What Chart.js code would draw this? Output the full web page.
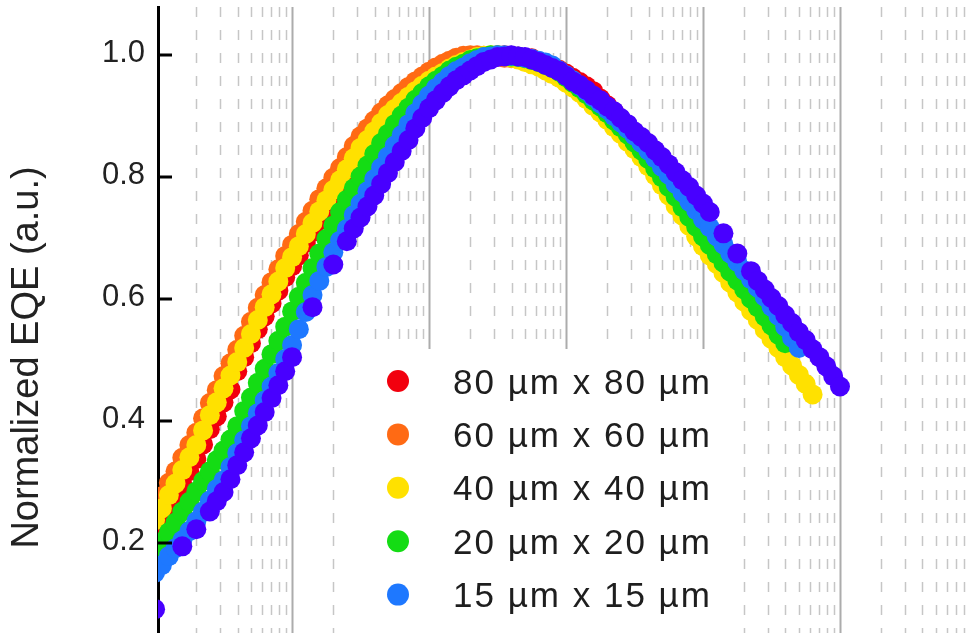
<!DOCTYPE html>
<html>
<head>
<meta charset="utf-8">
<script src="https://cdn.jsdelivr.net/npm/chart.js@4.4.1/dist/chart.umd.min.js"></script>
<style>
  html, body { margin: 0; padding: 0; background: #fff; }
  #wrap { width: 968px; height: 633px; overflow: hidden; position: relative; }
</style>
</head>
<body>
<div id="wrap"><canvas id="eqeChart" width="968" height="708"></canvas></div>
<script>
// Current density grid (A/cm2), same for every device
const currentDensity = [
  0.01, 0.0112, 0.0126, 0.0141, 0.0158, 0.0178, 0.02, 0.0224, 0.0251, 0.0282,
  0.0316, 0.0355, 0.0398, 0.0447, 0.0501, 0.0562, 0.0631, 0.0708, 0.0794, 0.0891,
  0.1, 0.112, 0.126, 0.141, 0.158, 0.178, 0.2, 0.224, 0.251, 0.282,
  0.316, 0.355, 0.398, 0.447, 0.501, 0.562, 0.631, 0.708, 0.794, 0.891,
  1, 1.12, 1.26, 1.41, 1.58, 1.78, 2, 2.24, 2.51, 2.82,
  3.16, 3.55, 3.98, 4.47, 5.01, 5.62, 6.31, 7.08, 7.94, 8.91,
  10, 11.2, 12.6, 14.1, 15.8, 17.8, 20, 22.4, 25.1, 28.2,
  31.6, 35.5, 39.8, 44.7, 50.1, 56.2, 63.1, 70.8, 79.4, 89.1,
  100, 112, 126, 141, 158, 178, 200, 224, 251, 282,
  316, 355, 398, 447, 501, 562, 631, 708, 794, 891,
  1000
];

// Device sizes and their colours
const deviceSizes = ['80 µm x 80 µm', '60 µm x 60 µm', '40 µm x 40 µm', '20 µm x 20 µm', '15 µm x 15 µm', '10 µm x 10 µm'];
const sizeColors = ['#f2000e', '#ff6a14', '#ffe100', '#14dc14', '#1e78ff', '#4800ff'];

// Normalized EQE per device (null = no point)
const eqe80 = [
  0.215, 0.234, 0.256, 0.275, 0.297, 0.318, 0.338, 0.362, 0.387, 0.408,
  0.431, 0.452, 0.482, 0.505, 0.528, 0.551, 0.572, 0.593, 0.614, 0.636,
  0.654, 0.672, 0.692, 0.710, 0.729, 0.747, 0.764, 0.780, 0.798, 0.816,
  0.833, 0.846, 0.860, 0.874, 0.887, 0.897, 0.907, 0.917, 0.926, 0.935,
  0.944, 0.952, 0.960, 0.968, 0.975, 0.982, 0.988, 0.993, 0.997, 0.999,
  1.000, 1.000, 0.999, 0.998, 0.996, 0.995, 0.990, 0.985, 0.980, 0.976,
  0.970, 0.963, 0.956, 0.949, 0.941, 0.929, 0.918, 0.907, 0.895, 0.883,
  0.870, 0.857, 0.844, 0.829, 0.814, 0.798, 0.782, 0.767, 0.751, 0.735,
  0.720, 0.704, 0.689, 0.674, 0.658, 0.643, 0.628, 0.613, 0.598, 0.584,
  0.570, 0.555, 0.540
];
const eqe60 = [
  0.258, 0.277, 0.299, 0.318, 0.340, 0.361, 0.381, 0.405, 0.430, 0.451,
  0.474, 0.495, 0.517, 0.540, 0.563, 0.586, 0.607, 0.628, 0.649, 0.671,
  0.689, 0.707, 0.727, 0.745, 0.764, 0.782, 0.799, 0.815, 0.833, 0.851,
  0.867, 0.880, 0.893, 0.906, 0.918, 0.928, 0.938, 0.948, 0.957, 0.965,
  0.973, 0.980, 0.986, 0.991, 0.996, 0.999, 1.000, 1.000, 0.999, 0.998,
  0.997, 0.996, 0.995, 0.994, 0.992, 0.990, 0.989, 0.983, 0.977, 0.971,
  0.963, 0.955, 0.946, 0.936, 0.925, 0.914, 0.902, 0.890, 0.879, 0.871,
  0.859, 0.846, 0.831, 0.816, 0.800, 0.783, 0.766, 0.750, 0.733, 0.716,
  0.700, 0.685, 0.671, 0.656, 0.640, 0.624, 0.609, 0.594, 0.579, 0.563,
  0.548, 0.533
];
const eqe40 = [
  0.238, 0.257, 0.279, 0.298, 0.320, 0.341, 0.361, 0.385, 0.410, 0.431,
  0.454, 0.475, 0.497, 0.520, 0.543, 0.566, 0.587, 0.608, 0.629, 0.651,
  0.669, 0.687, 0.707, 0.725, 0.744, 0.762, 0.779, 0.795, 0.813, 0.831,
  0.848, 0.861, 0.875, 0.889, 0.902, 0.912, 0.922, 0.932, 0.941, 0.950,
  0.958, 0.965, 0.971, 0.978, 0.984, 0.989, 0.993, 0.997, 0.999, 1.000,
  0.999, 0.998, 0.996, 0.993, 0.989, 0.985, 0.981, 0.975, 0.969, 0.963,
  0.955, 0.947, 0.938, 0.928, 0.917, 0.906, 0.894, 0.882, 0.871, 0.858,
  0.846, 0.833, 0.818, 0.803, 0.787, 0.770, 0.753, 0.737, 0.720, 0.703,
  0.687, 0.672, 0.658, 0.643, 0.627, 0.611, 0.596, 0.581, 0.566, 0.550,
  0.535, 0.520, 0.505, 0.491, 0.476, 0.461, 0.444
];
const eqe20 = [
  0.185, 0.202, 0.218, 0.234, 0.252, 0.268, 0.285, 0.302, 0.318, 0.336,
  0.352, 0.370, 0.392, 0.417, 0.439, 0.463, 0.486, 0.510, 0.532, 0.555,
  0.580, 0.604, 0.627, 0.651, 0.675, 0.699, 0.721, 0.743, 0.763, 0.782,
  0.801, 0.819, 0.838, 0.856, 0.871, 0.887, 0.901, 0.914, 0.927, 0.938,
  0.949, 0.958, 0.966, 0.975, 0.981, 0.986, 0.992, 0.995, 0.997, 1.000,
  1.000, 0.999, 0.998, 0.997, 0.995, 0.992, 0.989, 0.984, 0.979, 0.973,
  0.964, 0.955, 0.946, 0.936, 0.926, 0.916, 0.905, 0.893, 0.882, 0.870,
  0.857, 0.844, 0.830, 0.815, 0.800, 0.784, 0.768, 0.751, 0.735, 0.719,
  0.703, 0.689, 0.674, 0.660, 0.645, 0.631, 0.616, 0.601, 0.587, 0.572,
  0.557, 0.542, 0.528
];
const eqe15 = [
  0.152, 0.164, 0.179, 0.192, 0.205, 0.220, 0.236, 0.252, 0.270, 0.289,
  0.303, 0.325, 0.348, 0.369, 0.392, 0.413, 0.434, 0.457, 0.479, 0.502,
  0.525, 0.551, 0.579, 0.607, 0.630, 0.653, 0.677, 0.696, 0.715, 0.738,
  0.757, 0.777, 0.797, 0.816, 0.834, 0.852, 0.869, 0.887, 0.905, 0.920,
  0.934, 0.946, 0.956, 0.966, 0.974, 0.980, 0.987, 0.992, 0.997, 0.998,
  1.000, 1.000, 0.999, 0.998, 0.996, 0.994, 0.991, 0.988, 0.983, 0.975,
  0.967, 0.959, 0.950, 0.941, 0.931, 0.921, 0.911, 0.900, 0.890, 0.879,
  0.868, 0.856, 0.844, 0.831, 0.817, 0.804, 0.789, 0.775, 0.760, 0.746,
  0.731, 0.718, 0.703, 0.690, 0.675, 0.661, 0.647, 0.633, 0.619, 0.604,
  0.588, 0.573, 0.555, 0.537, 0.520
];
const eqe10 = [
  0.092, null, null, null, 0.195, null, 0.223, null, 0.252, 0.269,
  0.284, 0.305, 0.328, 0.349, 0.372, 0.393, 0.415, 0.438, 0.459, 0.482,
  0.505, null, null, 0.587, null, null, 0.657, null, 0.695, 0.716,
  0.734, 0.752, 0.770, 0.789, 0.807, 0.825, 0.843, 0.861, 0.880, 0.897,
  0.913, 0.926, 0.938, 0.949, 0.959, 0.967, 0.975, 0.982, 0.989, 0.993,
  0.997, 0.998, 1.000, 0.998, 0.997, 0.993, 0.989, 0.984, 0.979, 0.974,
  0.966, 0.957, 0.951, 0.943, 0.934, 0.926, 0.916, 0.908, 0.897, 0.887,
  0.875, 0.866, 0.856, 0.844, 0.833, 0.821, 0.808, 0.795, 0.784, 0.770,
  0.757, 0.743, null, 0.708, null, 0.675, null, 0.646, 0.630, 0.616,
  0.602, 0.589, 0.574, 0.561, 0.546, 0.533, 0.518, 0.505, 0.490, 0.474,
  0.457
];

const yTickValues = [0.2, 0.4, 0.6, 0.8, 1.0];

const FONT = "'Liberation Sans', Arial, sans-serif";
const series = [eqe80, eqe60, eqe40, eqe20, eqe15, eqe10];

const datasets = series.map((ys, i) => ({
  label: deviceSizes[i],
  data: currentDensity
    .map((x, j) => ({ x: x, y: ys[j] }))
    .filter(p => p.y !== null && p.y !== undefined),
  backgroundColor: sizeColors[i],
  borderWidth: 0,
  pointRadius: 10,
  pointHoverRadius: 10,
  order: series.length - i, // smallest device on top
  clip: 0
}));

// log grid (solid decades, dashed in between), inward y ticks, legend box
const paperLook = {
  id: 'paperLook',
  beforeDatasetsDraw(chart) {
    const { ctx, chartArea: area, scales } = chart;
    const xs = scales.x, ys = scales.y;
    ctx.save();
    for (let e = -2; e <= 3; e++) {
      for (let m = 1; m <= 9; m++) {
        const px = Math.round(xs.getPixelForValue(m * Math.pow(10, e))) + 0.5;
        if (px <= area.left + 3 || px >= area.right) continue;
        ctx.beginPath();
        if (m === 1) {
          ctx.setLineDash([]);
          ctx.strokeStyle = '#acacac';
          ctx.lineWidth = 2;
        } else {
          ctx.setLineDash([10, 13]);
          ctx.strokeStyle = '#c6c6c6';
          ctx.lineWidth = 1.5;
        }
        ctx.moveTo(px, area.top);
        ctx.lineTo(px, area.bottom);
        ctx.stroke();
      }
    }

    // legend
    ctx.setLineDash([]);
    ctx.fillStyle = '#fff';
    ctx.fillRect(346, 349, 394, area.bottom - 349);
    ctx.font = '35px ' + FONT;
    if ('letterSpacing' in ctx) ctx.letterSpacing = '2px';
    ctx.textAlign = 'left';
    ctx.textBaseline = 'alphabetic';
    deviceSizes.forEach((name, i) => {
      const cy = 381 + i * 53.4;
      ctx.beginPath();
      ctx.arc(398, cy, 11, 0, Math.PI * 2);
      ctx.fillStyle = sizeColors[i];
      ctx.fill();
      ctx.fillStyle = '#1e1e1e';
      ctx.fillText(name, 453, cy + 12.5);
    });
    ctx.restore();
  },
  afterDraw(chart) {
    // tick marks pointing into the plot
    const { ctx, chartArea: area, scales } = chart;
    ctx.save();
    ctx.setLineDash([]);
    ctx.fillStyle = '#000';
    yTickValues.forEach(v => {
      const py = Math.round(scales.y.getPixelForValue(v));
      ctx.fillRect(area.left - 1, py - 1.5, 15, 3);
    });
    ctx.restore();
  }
};

new Chart(document.getElementById('eqeChart'), {
  type: 'scatter',
  data: { datasets: datasets },
  options: {
    responsive: false,
    animation: false,
    events: [],
    layout: { autoPadding: false, padding: { top: 7, left: 0, right: 0, bottom: 0 } },
    plugins: {
      legend: { display: false },
      tooltip: { enabled: false }
    },
    scales: {
      x: {
        type: 'logarithmic',
        display: false,
        min: 0.0105,
        max: 8600
      },
      y: {
        min: -0.07,
        max: 1.079,
        afterFit: s => {
          s.width = 158;
          s.paddingTop = 0;
          s.paddingBottom = 0;
        },
        afterBuildTicks: s => { s.ticks = yTickValues.map(v => ({ value: v })); },
        grid: { display: false, drawTicks: false },
        border: { display: true, color: '#000', width: 3 },
        ticks: {
          padding: 13,
          labelOffset: -2,
          color: '#222',
          font: { family: FONT, size: 31 },
          callback: v => Number(v).toFixed(1)
        },
        title: {
          display: true,
          text: 'Normalized EQE (a.u.)',
          color: '#222',
          font: { family: FONT, size: 38 },
          padding: { top: 5, bottom: 0 }
        }
      }
    }
  },
  plugins: [paperLook]
});
</script>
</body>
</html>
